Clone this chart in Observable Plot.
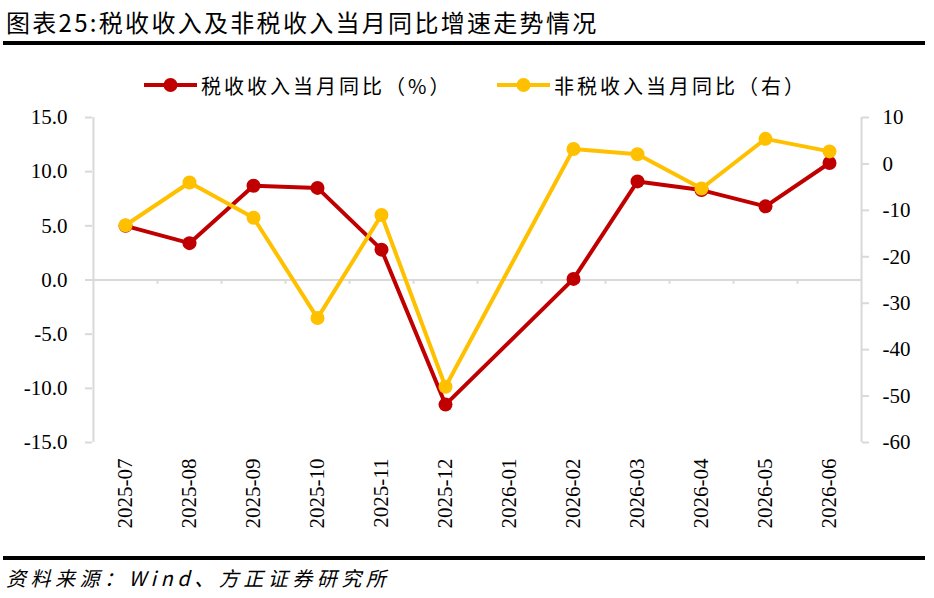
<!DOCTYPE html>
<html>
<head>
<meta charset="utf-8">
<script src="https://cdn.jsdelivr.net/npm/d3@7"></script>
<script src="https://cdn.jsdelivr.net/npm/@observablehq/plot@0.6"></script>
<style>
  html, body { margin: 0; padding: 0; background: #fff; }
  body { width: 934px; height: 598px; position: relative; overflow: hidden; font-family: "Noto Sans CJK SC", sans-serif; color: #000; }
  #title { position: absolute; left: 6px; top: 5px; font-size: 24px; line-height: 34px; white-space: nowrap; letter-spacing: 2.3px; }
  .hr { position: absolute; left: 3px; width: 922px; height: 4px; background: #000; }
  .legend-item { position: absolute; top: 72px; height: 26px; display: flex; align-items: center; white-space: nowrap; font-size: 20px; letter-spacing: 3px; }
  .legend-item svg { margin-right: 4px; }
  #chart { position: absolute; left: 0; top: 100px; }
  #source { position: absolute; left: 6px; top: 564px; font-size: 20px; line-height: 28px; font-style: italic; letter-spacing: 4.5px; white-space: nowrap; }
</style>
</head>
<body>
<div id="title">图表25:税收收入及非税收入当月同比增速走势情况</div>
<div class="hr" style="top:41px"></div>
<div id="legend"></div>
<div id="chart"></div>
<div class="hr" style="top:556px"></div>
<div id="source">资料来源：Wind、方正证券研究所</div>
<script>
// ---- data ----
const months = ["2025-07","2025-08","2025-09","2025-10","2025-11","2025-12","2026-01","2026-02","2026-03","2026-04","2026-05","2026-06"];
const taxYoY = [5.0, 3.4, 8.7, 8.5, 2.8, -11.5, null, 0.1, 9.1, 8.3, 6.8, 10.8];
const nonTaxYoY = [-13.2, -4.0, -11.6, -33.2, -11.0, -48.0, null, 3.2, 2.1, -5.3, 5.4, 2.7];
const leftTicks = [-15, -10, -5, 0, 5, 10, 15];
const rightTicks = [-60, -50, -40, -30, -20, -10, 0, 10];
const seriesNames = ["税收收入当月同比（%）", "非税收入当月同比（右）"];
const seriesColors = ["#C00000", "#FFC000"];

// ---- legend ----
const legendLefts = [144, 497];
const legend = document.getElementById("legend");
seriesNames.forEach((name, i) => {
  const item = document.createElement("div");
  item.className = "legend-item";
  item.style.left = legendLefts[i] + "px";
  item.innerHTML = `<svg width="53" height="16"><line x1="0" x2="53" y1="8" y2="8" stroke="${seriesColors[i]}" stroke-width="4"/><circle cx="26.5" cy="8" r="7" fill="${seriesColors[i]}"/></svg><span>${name}</span>`;
  legend.appendChild(item);
});

// ---- chart ----
const W = 934, mL = 92, mR = 73;
const step = (W - mL - mR) / months.length;
const r2l = d3.scaleLinear([-60, 10], [-15, 15]);
const rows = months.map((m, i) => ({month: m, tax: taxYoY[i], nonTax: nonTaxYoY[i]}));
const taxRows = rows.filter(d => d.tax != null);
const nonRows = rows.filter(d => d.nonTax != null);
const grey = "#d9d9d9";

const chart = Plot.plot({
  width: W,
  height: 440,
  marginTop: 17,
  marginBottom: 98,
  marginLeft: mL,
  marginRight: mR,
  style: {fontFamily: "'Liberation Serif', 'Times New Roman', serif", fontSize: "21px", color: "#000", background: "transparent", overflow: "visible"},
  x: {type: "point", domain: months, padding: 0.5, axis: null},
  y: {domain: [-15, 15], axis: null},
  marks: [
    Plot.ruleY([0], {stroke: grey, strokeWidth: 2}),
    Plot.ruleX(months.slice(0, -1), {x: d => d, y1: 0, y2: -0.4, dx: step / 2, stroke: grey, strokeWidth: 2}),
    Plot.ruleX([months[0]], {x: d => d, y1: -15, y2: 15, dx: -step / 2, stroke: grey, strokeWidth: 2}),
    Plot.ruleX([months[months.length - 1]], {x: d => d, y1: -15, y2: 15, dx: step / 2, stroke: grey, strokeWidth: 2}),
    Plot.axisY(leftTicks, {anchor: "left", label: null, tickSize: 7, tickPadding: 18, stroke: grey, strokeWidth: 2, fill: "#000", tickFormat: d => d.toFixed(1)}),
    Plot.axisY(rightTicks.map(v => r2l(v)), {anchor: "right", label: null, tickSize: 7, tickPadding: 14, stroke: grey, strokeWidth: 2, fill: "#000", tickFormat: d => String(Math.round(r2l.invert(d)))}),
    Plot.text(months, {x: d => d, y: -15, text: d => d, rotate: -90, textAnchor: "end", lineAnchor: "middle", dy: 16, fill: "#000"}),
    Plot.line(taxRows, {x: "month", y: "tax", stroke: seriesColors[0], strokeWidth: 4}),
    Plot.dot(taxRows, {x: "month", y: "tax", r: 7, fill: seriesColors[0]}),
    Plot.line(nonRows, {x: "month", y: d => r2l(d.nonTax), stroke: seriesColors[1], strokeWidth: 4}),
    Plot.dot(nonRows, {x: "month", y: d => r2l(d.nonTax), r: 7, fill: seriesColors[1]})
  ]
});
document.getElementById("chart").appendChild(chart);
</script>
</body>
</html>
